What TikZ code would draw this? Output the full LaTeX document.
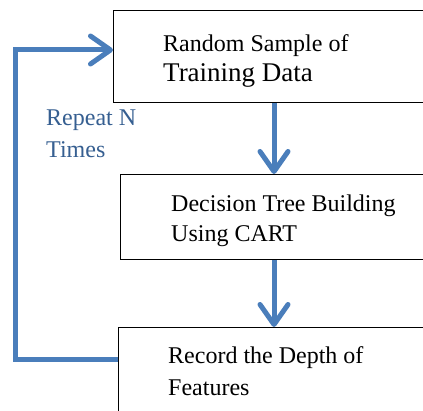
\documentclass[tikz,border=0pt]{standalone}
\usepackage{fontspec}
\setmainfont{Liberation Serif}
\usetikzlibrary{arrows.meta}
\definecolor{flowblue}{RGB}{74,126,187}
\definecolor{notecol}{RGB}{54,95,145}
\begin{document}
\begin{tikzpicture}[x=1pt,y=1pt,
  stepbox/.style={draw=black,line width=1.3pt,fill=white,rectangle,anchor=north west,
    minimum width=360pt,inner sep=0pt},
  label text/.style={anchor=base west,align=left,inner sep=0pt,
    font=\fontsize{24}{30}\selectfont},
  wide text/.style={label text,font=\fontsize{24}{32}\selectfont},
  flow/.style={draw=flowblue,line width=5pt},
  flowarrow/.style={flow,-{Straight Barb[length=20pt,width=28pt,round]}}]
\useasboundingbox (0,0) rectangle (423,410);
\clip (0,0) rectangle (423,410);
\fill[white] (0,0) rectangle (423,410);

% process boxes (running off the right and bottom edges)
\node[stepbox,minimum height=92pt] (b1) at (113,400) {};
\node[stepbox,minimum height=85pt] (b2) at (120,236) {};
\node[stepbox,minimum height=120pt] (b3) at (118,83) {};

% box texts (anchored at the baseline of the last line)
\node[label text] (t1) at (163,328) {Random Sample of\\{\fontsize{27}{30}\selectfont Training Data}};
\node[label text] (t2) at (171,168) {Decision Tree Building\\Using CART};
\node[wide text] (t3) at (168,15) {Record the Depth of\\Features};

% loop annotation
\node[wide text,text=notecol] (rep) at (46,252) {Repeat N\\Times};

% forward arrows down the column
\coordinate (col) at (274,0);
\draw[flowarrow] (b1.south -| col) -- (b2.north -| col);
\draw[flowarrow] (b2.south -| col) -- (b3.north -| col);

% feedback loop back to the first box
\coordinate (loopx) at (15,0);
\coordinate (out3) at ([yshift=-32pt]b3.north west);
\coordinate (in1) at ([yshift=-40pt]b1.north west);
\draw[flowarrow,line join=miter] (out3) -- (out3 -| loopx) |- (in1);
\end{tikzpicture}
\end{document}
